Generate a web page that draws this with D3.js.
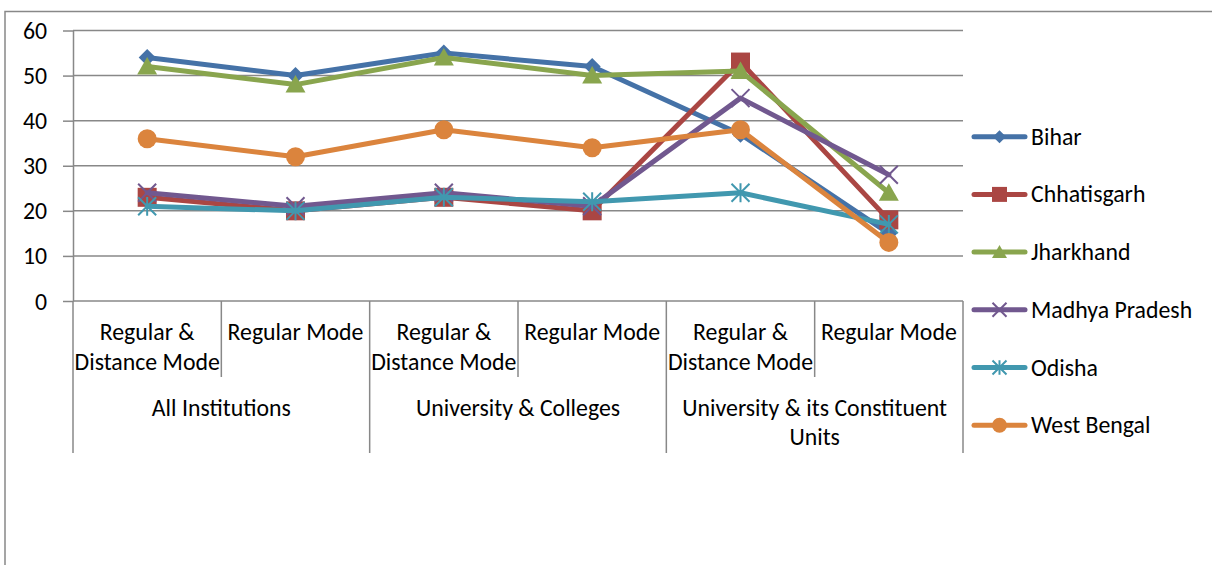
<!DOCTYPE html>
<html>
<head>
<meta charset="utf-8">
<script src="https://cdn.jsdelivr.net/npm/d3@7"></script>
<style>
  html, body { margin: 0; padding: 0; background: #fff; }
  svg text { font-family: Calibri, Carlito, Lato, "Open Sans", sans-serif; fill: #000; }
</style>
</head>
<body>
<svg id="chart" width="1212" height="565"></svg>
<script>
// Category labels: inner row (mode) and outer row (institution type)
const subLabels = [
  ["Regular &", "Distance Mode"], ["Regular Mode"],
  ["Regular &", "Distance Mode"], ["Regular Mode"],
  ["Regular &", "Distance Mode"], ["Regular Mode"]
];
const groupLabels = [
  ["All Institutions"],
  ["University & Colleges"],
  ["University & its Constituent", "Units"]
];
const yTicks = [0, 10, 20, 30, 40, 50, 60];

// Series values, one per category
const bihar         = [54, 50, 55, 52, 37, 15];
const chhatisgarh   = [23, 20, 23, 20, 53, 18];
const jharkhand     = [52, 48, 54, 50, 51, 24];
const madhyaPradesh = [24, 21, 24, 21, 45, 28];
const odisha        = [21, 20, 23, 22, 24, 17];
const westBengal    = [36, 32, 38, 34, 38, 13];

const seriesNames  = ["Bihar", "Chhatisgarh", "Jharkhand", "Madhya Pradesh", "Odisha", "West Bengal"];
const seriesValues = [bihar, chhatisgarh, jharkhand, madhyaPradesh, odisha, westBengal];
const seriesColors = ["#4572A7", "#AA4643", "#89A54E", "#71588F", "#4198AF", "#DB843D"];
const seriesMarks  = ["diamond", "square", "triangle", "x", "asterisk", "circle"];

const svg = d3.select("#chart");
const W = 1212, H = 565;
const plot = { left: 73, right: 963, top: 30.5, bottom: 301 };
const gridColor = "#888888";
const fontSize = 23.8;

svg.append("rect").attr("width", W).attr("height", H).attr("fill", "#fff");

// Chart-area frame (runs off the right and bottom edges)
svg.append("path")
  .attr("d", `M5,${H + 5} V11.5 H${W + 5}`)
  .attr("fill", "none").attr("stroke", gridColor).attr("stroke-width", 1.5);

const x = d3.scaleBand().domain(d3.range(subLabels.length)).range([plot.left, plot.right]);
const y = d3.scaleLinear().domain([0, 60]).range([plot.bottom, plot.top]);

// Horizontal gridlines
svg.append("g").selectAll("line").data(yTicks.filter(d => d > 0)).join("line")
  .attr("x1", plot.left).attr("x2", plot.right)
  .attr("y1", d => y(d)).attr("y2", d => y(d))
  .attr("stroke", gridColor).attr("stroke-width", 1.5);

// Y axis
const yAxis = svg.append("g").attr("transform", `translate(${plot.left},0)`)
  .call(d3.axisLeft(y).tickValues(yTicks).tickSize(10).tickSizeOuter(0).tickPadding(16));
yAxis.select(".domain").attr("stroke", gridColor).attr("stroke-width", 1.5);
yAxis.selectAll(".tick line").attr("stroke", gridColor).attr("stroke-width", 1.5);
yAxis.selectAll(".tick text")
  .attr("font-size", fontSize).attr("dy", null)
  .attr("font-family", 'Calibri, Carlito, Lato, "Open Sans", sans-serif')
  .attr("y", 8).attr("fill", "#000");

// X axis baseline
svg.append("line")
  .attr("x1", plot.left).attr("x2", plot.right)
  .attr("y1", y(0)).attr("y2", y(0))
  .attr("stroke", gridColor).attr("stroke-width", 1.5);

// Category separators: short between modes, long between groups
const bounds = d3.range(subLabels.length + 1);
const step = x.step();
svg.append("g").selectAll("line").data(bounds).join("line")
  .attr("x1", i => plot.left + i * step).attr("x2", i => plot.left + i * step)
  .attr("y1", y(0)).attr("y2", i => (i % 2 === 0 ? 453 : 377))
  .attr("stroke", gridColor).attr("stroke-width", 1.5);

// Inner category labels
const subG = svg.append("g");
subLabels.forEach((lines, i) => {
  const cx = x(i) + x.bandwidth() / 2;
  const t = subG.append("text").attr("text-anchor", "middle").attr("font-size", fontSize);
  lines.forEach((ln, k) => t.append("tspan").attr("x", cx).attr("y", 340 + k * 30).text(ln));
});

// Group labels
const groupG = svg.append("g");
groupLabels.forEach((lines, g) => {
  const cx = plot.left + (g * 2 + 1) * step;
  const t = groupG.append("text").attr("text-anchor", "middle").attr("font-size", fontSize);
  lines.forEach((ln, k) => t.append("tspan").attr("x", cx).attr("y", 415.5 + k * 29).text(ln));
});

// Marker path builders
function markerPath(type, s) {
  const h = s / 2;
  switch (type) {
    case "diamond": return `M0,${-h}L${h},0L0,${h}L${-h},0Z`;
    case "square": return `M${-h},${-h}H${h}V${h}H${-h}Z`;
    case "triangle": return `M0,${-h * 0.95}L${h},${h * 0.8}L${-h},${h * 0.8}Z`;
    case "circle": return d3.arc()({ innerRadius: 0, outerRadius: h, startAngle: 0, endAngle: 2 * Math.PI });
    case "x": return `M${-h},${-h}L${h},${h}M${h},${-h}L${-h},${h}`;
    case "asterisk": return `M${-h},${-h}L${h},${h}M${h},${-h}L${-h},${h}M0,${-h * 1.05}V${h * 1.05}`;
  }
}
const plotSize = { diamond: 17, square: 19, triangle: 20, circle: 19, x: 18, asterisk: 18 };
const legendSize = { diamond: 13, square: 15, triangle: 15, circle: 15, x: 14, asterisk: 14 };

function drawMarker(sel, type, color, size) {
  const stroked = type === "x" || type === "asterisk";
  sel.attr("d", markerPath(type, size))
    .attr("fill", stroked ? "none" : color)
    .attr("stroke", stroked ? color : "none")
    .attr("stroke-width", stroked ? 2 : 0);
}

const line = d3.line()
  .x((d, i) => x(i) + x.bandwidth() / 2)
  .y(d => y(d));

// Series: line then markers, in series order
seriesValues.forEach((vals, s) => {
  const g = svg.append("g");
  g.append("path").datum(vals)
    .attr("d", line)
    .attr("fill", "none")
    .attr("stroke", seriesColors[s])
    .attr("stroke-width", 5)
    .attr("stroke-linejoin", "round")
    .attr("stroke-linecap", "round");
  g.selectAll("path.mk").data(vals).join("path")
    .attr("class", "mk")
    .attr("transform", (d, i) => `translate(${x(i) + x.bandwidth() / 2},${y(d)})`)
    .each(function () { drawMarker(d3.select(this), seriesMarks[s], seriesColors[s], plotSize[seriesMarks[s]]); });
});

// Legend
const legend = svg.append("g");
seriesNames.forEach((name, s) => {
  const ly = 136.7 + s * 57.7;
  const lg = legend.append("g");
  lg.append("line")
    .attr("x1", 974).attr("x2", 1025).attr("y1", ly).attr("y2", ly)
    .attr("stroke", seriesColors[s]).attr("stroke-width", 5).attr("stroke-linecap", "round");
  lg.append("path")
    .attr("transform", `translate(999.5,${ly})`)
    .each(function () { drawMarker(d3.select(this), seriesMarks[s], seriesColors[s], legendSize[seriesMarks[s]]); });
  lg.append("text").attr("x", 1031).attr("y", ly + 8).attr("font-size", fontSize).text(name);
});
</script>
</body>
</html>
